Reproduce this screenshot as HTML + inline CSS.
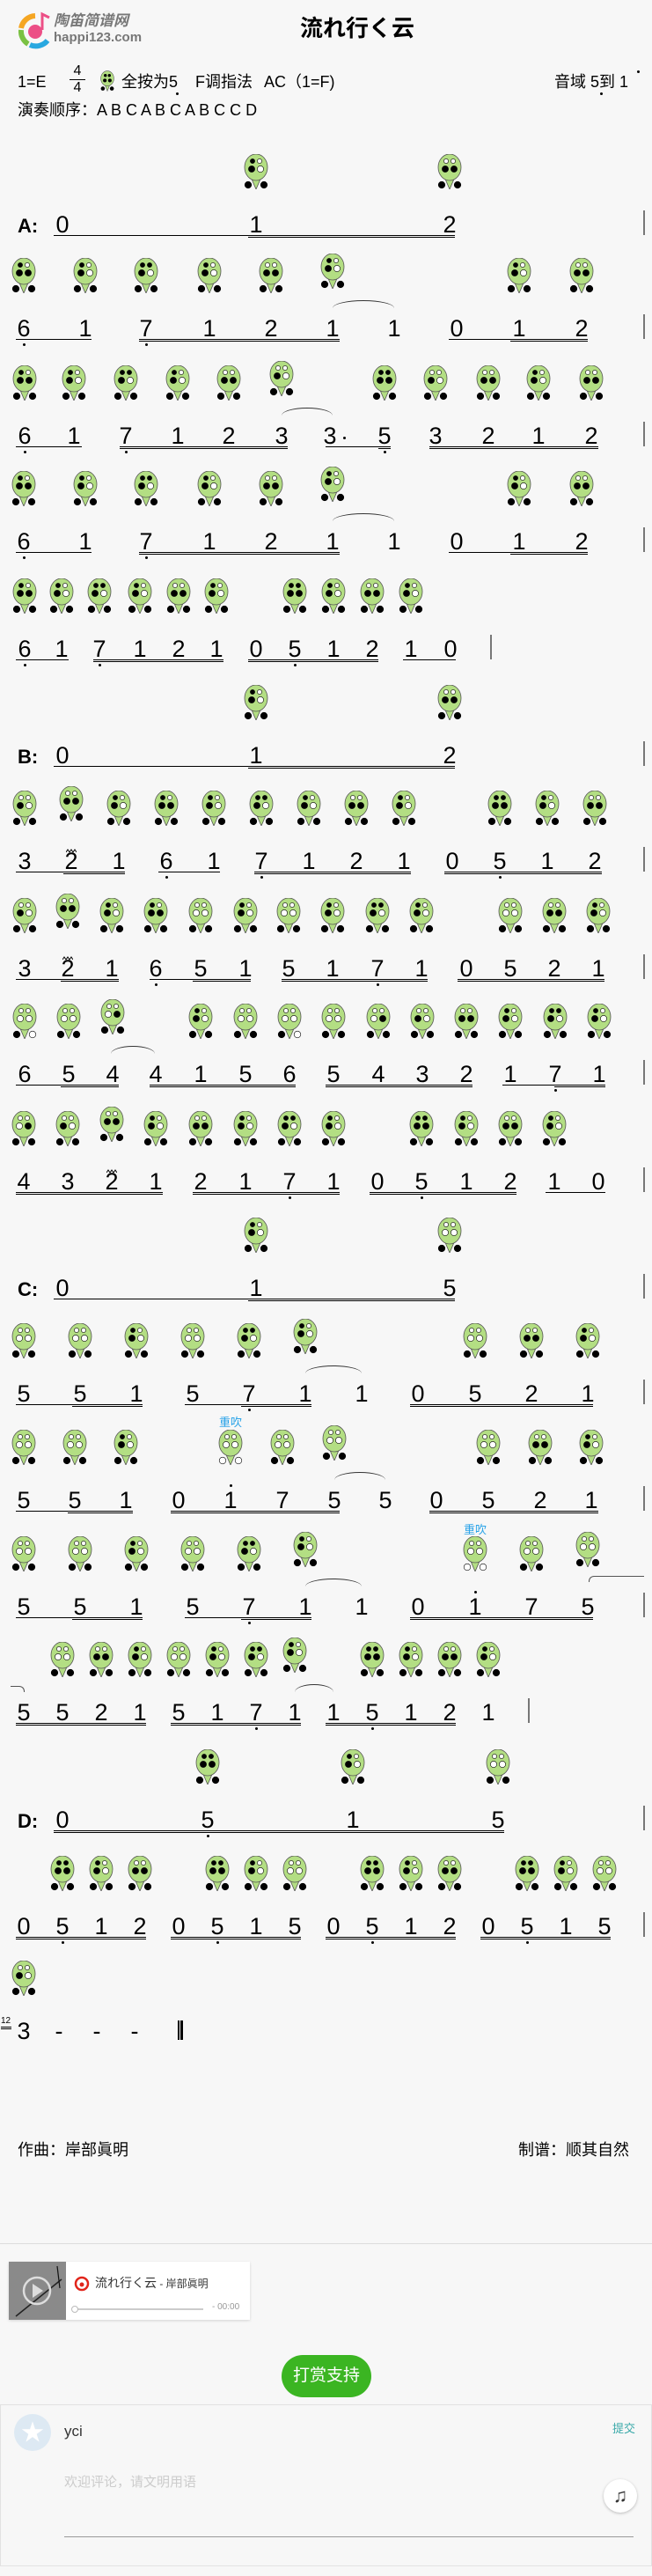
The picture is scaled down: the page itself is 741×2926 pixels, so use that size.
<!DOCTYPE html>
<html><head><meta charset="utf-8">
<style>
html,body{margin:0;padding:0}
body{width:741px;height:2926px;background:#f7f7f7;position:relative;overflow:hidden;font-family:"Liberation Sans","Noto Sans CJK SC",sans-serif;color:#000}
.sys{position:absolute;left:0;width:741px;height:30px}
.n{position:absolute;width:20px;text-align:center;top:-3px;font:27px/27px "Liberation Sans",sans-serif}
.u{position:absolute;top:22px;height:0;border-top:1px solid #000}
.u2{top:24px}
.d{height:1px;border-bottom:1px solid #000}
.bar{position:absolute;left:731px;top:-6px;width:2px;height:28px;background:#777}
.slur{position:absolute;top:-22px;height:8px;border-top:1.5px solid #333;border-radius:50%/100% 100% 0 0}
.lb{position:absolute;left:20px;top:1px;font:bold 22px/22px "Liberation Sans",sans-serif;font-style:normal}
.dot{position:absolute;width:3px;height:3px;border-radius:50%;background:#000}
.ic{position:absolute}
.t{position:absolute}
.cj{font-family:"Liberation Sans","Noto Sans CJK SC",sans-serif}
</style></head><body>

<!-- header -->
<svg style="position:absolute;left:18px;top:12px" width="44" height="44" viewBox="0 0 44 44">
<path d="M22 6 A17 17 0 0 0 6 20" stroke="#f5a623" stroke-width="6" fill="none"/>
<path d="M6 22 A17 17 0 0 0 14 38" stroke="#7ac143" stroke-width="6" fill="none"/>
<path d="M16 39 A17 17 0 0 0 36 34" stroke="#29a8e0" stroke-width="6" fill="none"/>
<circle cx="22" cy="24" r="8" fill="#ec4f86"/>
<path d="M30 22 L30 4 L38 8" stroke="#ec4f86" stroke-width="3" fill="none"/>
</svg>
<div class="cj" style="position:absolute;left:61px;top:14px;font:italic bold 17px/20px 'Liberation Sans','Noto Sans CJK SC',sans-serif;color:#777">陶笛简谱网</div>
<div style="position:absolute;left:61px;top:34px;font:bold 15px/18px 'Liberation Sans',sans-serif;color:#777">happi123.com</div>
<div class="cj" style="position:absolute;left:0;width:812px;text-align:center;top:17px;font:bold 26px/30px 'Liberation Sans','Noto Sans CJK SC',sans-serif">流れ行く云</div>

<div class="cj" style="position:absolute;left:20px;top:82px;font-size:18px;line-height:22px">1=E</div>
<div style="position:absolute;left:78px;top:73px;font-size:16px;line-height:16px;width:20px;text-align:center">4</div>
<div style="position:absolute;left:79px;top:90px;width:18px;border-top:1px solid #000"></div>
<div style="position:absolute;left:78px;top:92px;font-size:16px;line-height:16px;width:20px;text-align:center">4</div>
<svg style="position:absolute;left:114px;top:80px" width="16" height="24" viewBox="0 0 28 40"><path d="M9 27 L14 40 L19 27Z" fill="#b3de83" stroke="#555"/><ellipse cx="14" cy="15" rx="13" ry="15" fill="#b3de83" stroke="#555"/><circle cx="10" cy="9" r="3" fill="#000"/><circle cx="18" cy="9" r="3" fill="#000"/><circle cx="9" cy="19" r="3.6" fill="#000"/><circle cx="19" cy="19" r="3.6" fill="#000"/><circle cx="5" cy="35" r="4" fill="#000"/><circle cx="23" cy="35" r="4" fill="#000"/></svg>
<div class="cj" style="position:absolute;left:138px;top:82px;font-size:18px;line-height:22px">全按为5</div>
<div class="dot" style="left:200px;top:105px"></div>
<div class="cj" style="position:absolute;left:222px;top:82px;font-size:18px;line-height:22px">F调指法</div>
<div class="cj" style="position:absolute;left:300px;top:82px;font-size:18px;line-height:22px">AC（1=F)</div>
<div class="cj" style="position:absolute;left:630px;top:82px;font-size:18px;line-height:22px">音域 5到 1</div>
<div class="dot" style="left:682px;top:105px"></div>
<div class="dot" style="left:724px;top:80px"></div>
<div class="cj" style="position:absolute;left:20px;top:114px;font-size:18px;line-height:22px">演奏顺序：A B C A B C A B C C D</div>

<!-- A intro -->
<div class="sys" style="top:245px"><em class="lb">A:</em>
<span class="n" style="left:61px">0</span><span class="n" style="left:281px">1</span><span class="n" style="left:501px">2</span>
<b class="u" style="left:61px;width:456px"></b><b class="u u2" style="left:282px;width:235px"></b><i class="bar"></i></div>

<!-- A1 -->
<div class="sys" style="top:363px">
<span class="n L" style="left:17px">6</span><span class="n" style="left:87px">1</span><span class="n L" style="left:156px">7</span><span class="n" style="left:228px">1</span><span class="n" style="left:298px">2</span><span class="n r" style="left:368px">1</span><span class="n x" style="left:438px">1</span><span class="n" style="left:509px">0</span><span class="n" style="left:580px">1</span><span class="n" style="left:651px">2</span>
<b class="u" style="left:18px;width:86px"></b><b class="u d" style="left:158px;width:228px"></b><b class="u" style="left:510px;width:158px"></b><b class="u u2" style="left:580px;width:88px"></b>
<i class="slur" style="left:378px;width:70px"></i><i class="bar"></i></div>

<!-- A2 -->
<div class="sys" style="top:485px">
<span class="n L" style="left:18px">6</span><span class="n" style="left:74px">1</span><span class="n L" style="left:133px">7</span><span class="n" style="left:192px">1</span><span class="n" style="left:250px">2</span><span class="n r" style="left:310px">3</span><span class="n x" style="left:365px">3</span><span class="n L" style="left:427px">5</span><span class="n" style="left:485px">3</span><span class="n" style="left:545px">2</span><span class="n" style="left:602px">1</span><span class="n" style="left:662px">2</span>
<i class="dot" style="left:390px;top:11px"></i>
<b class="u" style="left:18px;width:75px"></b><b class="u d" style="left:136px;width:191px"></b><b class="u" style="left:370px;width:74px"></b><b class="u u2" style="left:430px;width:14px"></b><b class="u d" style="left:488px;width:192px"></b>
<i class="slur" style="left:320px;width:58px"></i><i class="bar"></i></div>

<!-- A3 -->
<div class="sys" style="top:605px">
<span class="n L" style="left:17px">6</span><span class="n" style="left:87px">1</span><span class="n L" style="left:156px">7</span><span class="n" style="left:228px">1</span><span class="n" style="left:298px">2</span><span class="n r" style="left:368px">1</span><span class="n x" style="left:438px">1</span><span class="n" style="left:509px">0</span><span class="n" style="left:580px">1</span><span class="n" style="left:651px">2</span>
<b class="u" style="left:18px;width:86px"></b><b class="u d" style="left:158px;width:228px"></b><b class="u" style="left:510px;width:158px"></b><b class="u u2" style="left:580px;width:88px"></b>
<i class="slur" style="left:378px;width:70px"></i><i class="bar"></i></div>

<!-- A4 -->
<div class="sys" style="top:727px">
<span class="n L" style="left:18px">6</span><span class="n" style="left:60px">1</span><span class="n L" style="left:103px">7</span><span class="n" style="left:149px">1</span><span class="n" style="left:193px">2</span><span class="n" style="left:236px">1</span><span class="n" style="left:281px">0</span><span class="n L" style="left:325px">5</span><span class="n" style="left:369px">1</span><span class="n" style="left:413px">2</span><span class="n" style="left:457px">1</span><span class="n" style="left:502px">0</span>
<b class="u" style="left:18px;width:60px"></b><b class="u d" style="left:106px;width:148px"></b><b class="u d" style="left:282px;width:148px"></b><b class="u" style="left:458px;width:60px"></b>
<i class="bar" style="left:557px"></i></div>

<!-- B intro -->
<div class="sys" style="top:848px"><em class="lb">B:</em>
<span class="n" style="left:61px">0</span><span class="n" style="left:281px">1</span><span class="n" style="left:501px">2</span>
<b class="u" style="left:61px;width:456px"></b><b class="u u2" style="left:282px;width:235px"></b><i class="bar"></i></div>

<!-- B1 -->
<div class="sys" style="top:968px">
<span class="n" style="left:18px">3</span><span class="n r t" style="left:71px">2</span><span class="n" style="left:125px">1</span><span class="n L" style="left:179px">6</span><span class="n" style="left:233px">1</span><span class="n L" style="left:287px">7</span><span class="n" style="left:341px">1</span><span class="n" style="left:395px">2</span><span class="n" style="left:449px">1</span><span class="n" style="left:504px">0</span><span class="n L" style="left:558px">5</span><span class="n" style="left:612px">1</span><span class="n" style="left:666px">2</span>
<b class="u" style="left:18px;width:124px"></b><b class="u u2" style="left:72px;width:70px"></b><b class="u" style="left:180px;width:70px"></b><b class="u d" style="left:289px;width:178px"></b><b class="u d" style="left:505px;width:179px"></b>
<i class="bar"></i></div>

<!-- B2 -->
<div class="sys" style="top:1090px">
<span class="n" style="left:18px">3</span><span class="n r t" style="left:67px">2</span><span class="n" style="left:117px">1</span><span class="n L" style="left:167px">6</span><span class="n" style="left:218px">5</span><span class="n" style="left:269px">1</span><span class="n" style="left:318px">5</span><span class="n" style="left:368px">1</span><span class="n L" style="left:419px">7</span><span class="n" style="left:469px">1</span><span class="n" style="left:520px">0</span><span class="n" style="left:570px">5</span><span class="n" style="left:620px">2</span><span class="n" style="left:670px">1</span>
<b class="u" style="left:18px;width:117px"></b><b class="u u2" style="left:69px;width:66px"></b><b class="u" style="left:170px;width:115px"></b><b class="u u2" style="left:219px;width:66px"></b><b class="u d" style="left:320px;width:166px"></b><b class="u d" style="left:520px;width:167px"></b>
<i class="bar"></i></div>

<!-- B3 -->
<div class="sys" style="top:1210px">
<span class="n" style="left:18px">6</span><span class="n" style="left:68px">5</span><span class="n r" style="left:118px">4</span><span class="n x" style="left:167px">4</span><span class="n" style="left:218px">1</span><span class="n" style="left:269px">5</span><span class="n" style="left:319px">6</span><span class="n" style="left:369px">5</span><span class="n" style="left:420px">4</span><span class="n" style="left:470px">3</span><span class="n" style="left:520px">2</span><span class="n" style="left:570px">1</span><span class="n L" style="left:621px">7</span><span class="n" style="left:671px">1</span>
<b class="u" style="left:18px;width:117px"></b><b class="u u2" style="left:69px;width:66px"></b><b class="u d" style="left:170px;width:166px"></b><b class="u d" style="left:370px;width:167px"></b><b class="u" style="left:571px;width:117px"></b><b class="u u2" style="left:630px;width:58px"></b>
<i class="slur" style="left:126px;width:50px"></i><i class="bar"></i></div>

<!-- B4 -->
<div class="sys" style="top:1332px">
<span class="n" style="left:17px">4</span><span class="n" style="left:67px">3</span><span class="n r t" style="left:117px">2</span><span class="n" style="left:167px">1</span><span class="n" style="left:218px">2</span><span class="n" style="left:269px">1</span><span class="n L" style="left:319px">7</span><span class="n" style="left:369px">1</span><span class="n" style="left:419px">0</span><span class="n L" style="left:469px">5</span><span class="n" style="left:520px">1</span><span class="n" style="left:570px">2</span><span class="n" style="left:620px">1</span><span class="n" style="left:670px">0</span>
<b class="u d" style="left:18px;width:167px"></b><b class="u d" style="left:219px;width:167px"></b><b class="u d" style="left:420px;width:167px"></b><b class="u" style="left:620px;width:68px"></b>
<i class="bar"></i></div>

<!-- C intro -->
<div class="sys" style="top:1453px"><em class="lb">C:</em>
<span class="n" style="left:61px">0</span><span class="n" style="left:281px">1</span><span class="n" style="left:501px">5</span>
<b class="u" style="left:61px;width:456px"></b><b class="u u2" style="left:282px;width:235px"></b><i class="bar"></i></div>

<!-- C1 -->
<div class="sys" style="top:1573px">
<span class="n" style="left:17px">5</span><span class="n" style="left:81px">5</span><span class="n" style="left:145px">1</span><span class="n" style="left:209px">5</span><span class="n L" style="left:273px">7</span><span class="n r" style="left:337px">1</span><span class="n x" style="left:401px">1</span><span class="n" style="left:465px">0</span><span class="n" style="left:530px">5</span><span class="n" style="left:594px">2</span><span class="n" style="left:658px">1</span>
<b class="u" style="left:18px;width:144px"></b><b class="u u2" style="left:82px;width:80px"></b><b class="u" style="left:210px;width:144px"></b><b class="u u2" style="left:274px;width:80px"></b><b class="u d" style="left:466px;width:208px"></b>
<i class="slur" style="left:347px;width:64px"></i><i class="bar"></i></div>

<!-- C2 -->
<div class="sys" style="top:1694px">
<span class="n" style="left:17px">5</span><span class="n" style="left:75px">5</span><span class="n" style="left:133px">1</span><span class="n" style="left:193px">0</span><span class="n H" style="left:252px">1</span><span class="n" style="left:311px">7</span><span class="n r" style="left:370px">5</span><span class="n x" style="left:428px">5</span><span class="n" style="left:486px">0</span><span class="n" style="left:545px">5</span><span class="n" style="left:604px">2</span><span class="n" style="left:662px">1</span>
<b class="u" style="left:18px;width:133px"></b><b class="u u2" style="left:77px;width:74px"></b><b class="u d" style="left:194px;width:192px"></b><b class="u d" style="left:488px;width:192px"></b>
<i class="slur" style="left:380px;width:58px"></i><i class="bar"></i></div>
<div class="cj" style="position:absolute;left:249px;top:1608px;font-size:13px;line-height:15px;color:#29a3e8">重吹</div>

<!-- C3 -->
<div class="sys" style="top:1815px">
<span class="n" style="left:17px">5</span><span class="n" style="left:81px">5</span><span class="n" style="left:145px">1</span><span class="n" style="left:209px">5</span><span class="n L" style="left:273px">7</span><span class="n r" style="left:337px">1</span><span class="n x" style="left:401px">1</span><span class="n" style="left:465px">0</span><span class="n H" style="left:530px">1</span><span class="n" style="left:594px">7</span><span class="n r" style="left:658px">5</span>
<b class="u" style="left:18px;width:144px"></b><b class="u u2" style="left:82px;width:80px"></b><b class="u" style="left:210px;width:144px"></b><b class="u u2" style="left:274px;width:80px"></b><b class="u d" style="left:466px;width:208px"></b>
<i class="slur" style="left:347px;width:64px"></i>
<i style="position:absolute;left:669px;top:-25px;width:62px;height:6px;border-top:1.5px solid #555;border-left:1.5px solid #555;border-radius:6px 0 0 0"></i>
<i class="bar"></i></div>
<div class="cj" style="position:absolute;left:527px;top:1730px;font-size:13px;line-height:15px;color:#29a3e8">重吹</div>

<!-- C4 -->
<div class="sys" style="top:1935px">
<i style="position:absolute;left:12px;top:-20px;width:15px;height:6px;border-top:1.5px solid #555;border-right:1.5px solid #555;border-radius:0 6px 0 0"></i>
<span class="n x" style="left:17px">5</span><span class="n" style="left:61px">5</span><span class="n" style="left:105px">2</span><span class="n" style="left:149px">1</span><span class="n" style="left:193px">5</span><span class="n" style="left:237px">1</span><span class="n L" style="left:281px">7</span><span class="n r" style="left:325px">1</span><span class="n x" style="left:369px">1</span><span class="n L" style="left:413px">5</span><span class="n" style="left:457px">1</span><span class="n" style="left:501px">2</span><span class="n" style="left:545px">1</span>
<b class="u d" style="left:18px;width:148px"></b><b class="u d" style="left:194px;width:148px"></b><b class="u d" style="left:370px;width:148px"></b>
<i class="slur" style="left:335px;width:44px"></i><i class="bar" style="left:600px"></i></div>

<!-- D intro -->
<div class="sys" style="top:2057px"><em class="lb">D:</em>
<span class="n" style="left:61px">0</span><span class="n L" style="left:226px">5</span><span class="n" style="left:391px">1</span><span class="n" style="left:556px">5</span>
<b class="u d" style="left:61px;width:512px"></b><i class="bar"></i></div>

<!-- D1 -->
<div class="sys" style="top:2178px">
<span class="n" style="left:17px">0</span><span class="n L" style="left:61px">5</span><span class="n" style="left:105px">1</span><span class="n" style="left:149px">2</span><span class="n" style="left:193px">0</span><span class="n L" style="left:237px">5</span><span class="n" style="left:281px">1</span><span class="n" style="left:325px">5</span><span class="n" style="left:369px">0</span><span class="n L" style="left:413px">5</span><span class="n" style="left:457px">1</span><span class="n" style="left:501px">2</span><span class="n" style="left:545px">0</span><span class="n L" style="left:589px">5</span><span class="n" style="left:633px">1</span><span class="n" style="left:677px">5</span>
<b class="u d" style="left:18px;width:148px"></b><b class="u d" style="left:194px;width:148px"></b><b class="u d" style="left:370px;width:148px"></b><b class="u d" style="left:546px;width:148px"></b>
<i class="bar"></i></div>

<!-- Final -->
<div class="sys" style="top:2297px">
<div style="position:absolute;left:1px;top:-6px;font-size:10px;line-height:10px">12</div>
<div style="position:absolute;left:1px;top:5px;width:12px;border-top:1px solid #000"></div>
<div style="position:absolute;left:1px;top:7px;width:12px;border-top:1px solid #000"></div>
<span class="n" style="left:17px">3</span>
<span class="n x" style="left:57px">-</span><span class="n x" style="left:100px">-</span><span class="n x" style="left:143px">-</span>
<i style="position:absolute;left:202px;top:-2px;width:1.5px;height:22px;background:#000"></i>
<i style="position:absolute;left:205px;top:-2px;width:2.5px;height:22px;background:#000"></i>
</div>

<div class="cj" style="position:absolute;left:20px;top:2431px;font-size:18px;line-height:22px">作曲：岸部眞明</div>
<div class="cj" style="position:absolute;right:26px;top:2431px;font-size:18px;line-height:22px">制谱：顺其自然</div>

<div style="position:absolute;left:0;top:2548px;width:741px;border-top:1px solid #ddd"></div>

<!-- player -->
<div style="position:absolute;left:10px;top:2569px;width:274px;height:66px;background:#fff;box-shadow:0 1px 3px rgba(0,0,0,.15)"></div>
<div style="position:absolute;left:10px;top:2569px;width:65px;height:66px;background:#8a8a8a"></div>
<svg style="position:absolute;left:10px;top:2569px" width="65" height="66"><path d="M8 62 L60 20" stroke="#222" stroke-width="1.5"/><path d="M55 5 L58 30" stroke="#111" stroke-width="1.2"/><circle cx="32" cy="33" r="15" fill="none" stroke="#ddd" stroke-width="2.5"/><path d="M27 25 L39 33 L27 41Z" fill="#ddd"/></svg>
<svg style="position:absolute;left:84px;top:2585px" width="18" height="18"><circle cx="9" cy="9" r="7" fill="none" stroke="#e1251b" stroke-width="2.5"/><circle cx="9" cy="10" r="2.5" fill="#e1251b"/></svg>
<div class="cj" style="position:absolute;left:108px;top:2584px;font-size:14px;line-height:18px;color:#333">流れ行く云<span style="font-size:12px"> - 岸部眞明</span></div>
<div style="position:absolute;left:84px;top:2622px;width:147px;border-top:2px solid #ccc"></div>
<div style="position:absolute;left:81px;top:2619px;width:6px;height:6px;border:1px solid #bbb;border-radius:50%;background:#fff"></div>
<div style="position:absolute;left:241px;top:2615px;font-size:10px;line-height:12px;color:#999">- 00:00</div>

<div class="cj" style="position:absolute;left:320px;top:2675px;width:102px;height:48px;border-radius:24px;background:#3bb522;color:#fff;font-size:19px;line-height:48px;text-align:center">打赏支持</div>

<!-- comment -->
<div style="position:absolute;left:0;top:2731px;width:739px;height:182px;border:1px solid #e2e2e2"></div>
<div style="position:absolute;left:16px;top:2742px;width:42px;height:42px;border-radius:50%;background:#dde9f3"></div>
<div style="position:absolute;left:16px;top:2748px;width:42px;text-align:center;color:#fff;font-size:26px;line-height:30px">★</div>
<div style="position:absolute;left:73px;top:2752px;font-size:17px;line-height:20px;color:#333">yci</div>
<div class="cj" style="position:absolute;left:696px;top:2751px;font-size:13px;line-height:16px;color:#3aa9a9">提交</div>
<div class="cj" style="position:absolute;left:73px;top:2811px;font-size:15px;line-height:18px;color:#ccc">欢迎评论，请文明用语</div>
<div style="position:absolute;left:686px;top:2816px;width:38px;height:38px;border-radius:50%;background:#fff;box-shadow:0 1px 3px rgba(0,0,0,.25);text-align:center;font-size:22px;line-height:38px;color:#333">♫</div>
<div style="position:absolute;left:73px;top:2881px;width:647px;border-top:1px solid #999"></div>

<script>
(function(){
var P={'5L':[1,1,1,1,1,1],'6L':[1,0,1,1,1,1],'7L':[1,1,1,0,1,1],'1':[1,0,1,0,1,1],'2':[0,0,1,1,1,1],'3':[0,0,1,0,1,1],'4':[0,0,0,1,1,1],'5':[0,0,0,0,1,1],'6':[0,0,0,0,1,0],'7':[0,0,0,0,1,1],'1H':[0,0,0,0,0,0]};
function f(v){return v?'#000':'#fff';}
function oc(p){
return '<svg width="28" height="40" viewBox="0 0 28 40"><path d="M8 26 L14 40 L20 26Z" fill="#b3de83" stroke="#555" stroke-width=".8"/><ellipse cx="14" cy="15" rx="13" ry="15" fill="#b3de83" stroke="#555" stroke-width=".8"/>'+
'<circle cx="10" cy="8" r="2.6" fill="'+f(p[0])+'" stroke="#000" stroke-width=".6"/><circle cx="18" cy="8" r="2.6" fill="'+f(p[1])+'" stroke="#000" stroke-width=".6"/>'+
'<circle cx="9" cy="17" r="3.6" fill="'+f(p[2])+'" stroke="#000" stroke-width=".6"/><circle cx="19" cy="17" r="3.6" fill="'+f(p[3])+'" stroke="#000" stroke-width=".6"/>'+
'<circle cx="5" cy="35" r="3.8" fill="'+f(p[4])+'" stroke="#000" stroke-width=".6"/><circle cx="23" cy="35" r="3.8" fill="'+f(p[5])+'" stroke="#000" stroke-width=".6"/></svg>';}
var sp=document.querySelectorAll('.sys .n');
for(var i=0;i<sp.length;i++){
var s=sp[i],par=s.parentNode,l=parseFloat(s.style.left),cx=l+10,t=s.textContent.trim();
var L=s.classList.contains('L'),H=s.classList.contains('H');
if(L){var d=document.createElement('i');d.className='dot';d.style.left=(cx-1.5)+'px';d.style.top='27px';par.appendChild(d);}
if(H){var d2=document.createElement('i');d2.className='dot';d2.style.left=(cx-1.5)+'px';d2.style.top='-8px';par.appendChild(d2);}
if(s.classList.contains('t')){var z=document.createElement('div');z.className='t';z.style.left=(cx-6)+'px';z.style.top='-12px';z.innerHTML='<svg width="12" height="5"><path d="M0 4 L2 1 L4 4 L6 1 L8 4 L10 1 L12 4" stroke="#000" stroke-width="1" fill="none"/></svg>';par.appendChild(z);}
if(s.classList.contains('x')||t==='0'||t==='-')continue;
var k=t+(L?'L':H?'H':'');var p=P[k]||P[t];if(!p)continue;
var e=document.createElement('div');e.className='ic';e.style.left=(cx-14)+'px';
e.style.top=(s.classList.contains('r')?-75:-70)+'px';e.innerHTML=oc(p);par.appendChild(e);}
})();
</script>
</body></html>
